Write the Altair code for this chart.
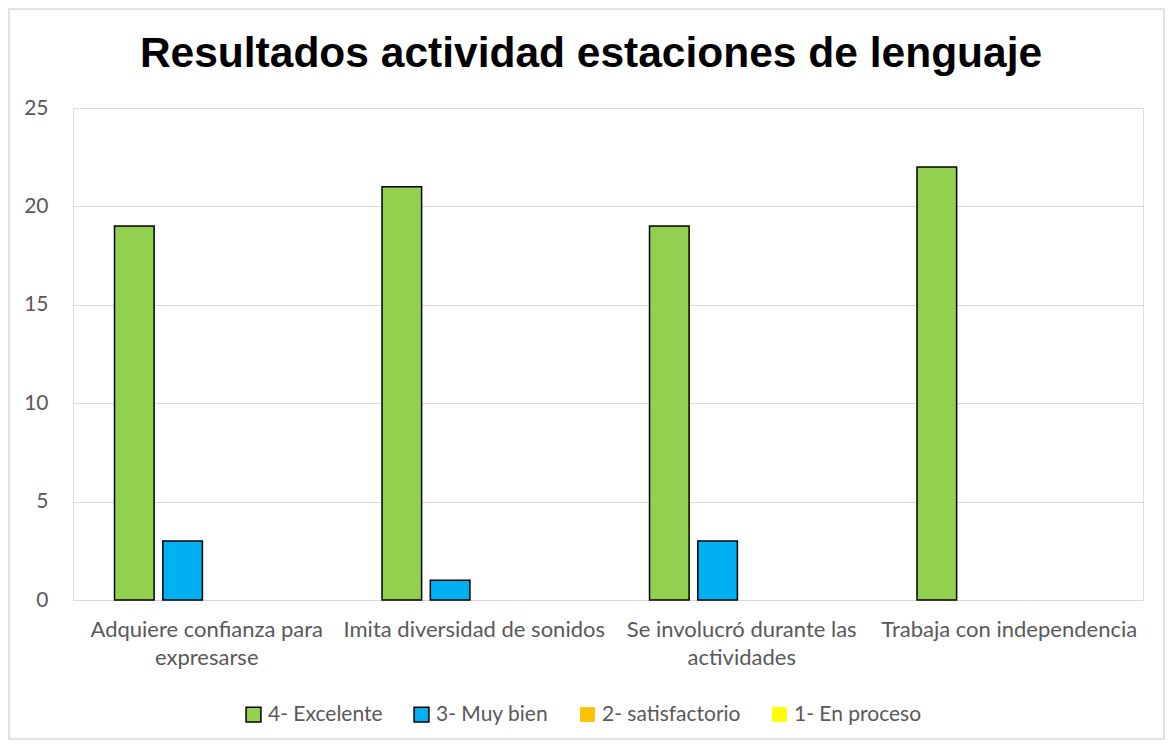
import altair as alt
import pandas as pd

categories = [
    "Adquiere confianza para expresarse",
    "Imita diversidad de sonidos",
    "Se involucró durante las actividades",
    "Trabaja con independencia",
]
series = ["4- Excelente", "3- Muy bien", "2- satisfactorio", "1- En proceso"]
excelente = [19, 21, 19, 22]
muy_bien = [3, 1, 3, 0]
satisfactorio = [0, 0, 0, 0]
en_proceso = [0, 0, 0, 0]
colors = ["#92D050", "#00B0F0", "#FFC000", "#FFFF00"]
strokes = ["#000000", "#000000", "transparent", "transparent"]
title_text = "Resultados actividad estaciones de lenguaje"

rows = []
for s, vals in zip(series, [excelente, muy_bien, satisfactorio, en_proceso]):
    for c, v in zip(categories, vals):
        if v > 0:
            rows.append({"cat": c, "serie": s, "valor": v})
df = pd.DataFrame(rows)

W, H = 1070, 492
PL, PT = 65, 100
label_expr = (
    "datum.value == 'Adquiere confianza para expresarse' ? ['Adquiere confianza para', 'expresarse'] : "
    "datum.value == 'Se involucró durante las actividades' ? ['Se involucró durante las', 'actividades'] : datum.value"
)

legend_kw = dict(title=None, orient="none", direction="horizontal",
                 legendX=170, legendY=596, symbolType="square", symbolSize=220,
                 symbolStrokeWidth=1.5, labelFont="Lato", labelFontSize=21,
                 labelColor="#595959", columnPadding=28, labelOffset=4)

bars = alt.Chart(df).mark_bar(strokeWidth=1.5).encode(
    x=alt.X("cat:N", sort=categories, scale=alt.Scale(domain=categories, paddingInner=0, paddingOuter=0),
            axis=alt.Axis(title=None, labelAngle=0, domain=False, ticks=False, labelPadding=19,
                          labelFont="Lato", labelFontSize=22, labelColor="#595959", labelLimit=400,
                          labelLineHeight=28, labelExpr=label_expr, grid=False)),
    xOffset=alt.XOffset("serie:N", sort=series,
                        scale=alt.Scale(domain=series, paddingInner=0.18, paddingOuter=0.86)),
    y=alt.Y("valor:Q", scale=alt.Scale(domain=[0, 25]),
            axis=alt.Axis(title=None, values=[0, 5, 10, 15, 20, 25], domain=False, ticks=False,
                          labelPadding=25, labelFont="Lato", labelFontSize=21, labelColor="#595959",
                          gridColor="#D9D9D9", gridWidth=1)),
    fill=alt.Fill("serie:N", sort=series, scale=alt.Scale(domain=series, range=colors),
                  legend=alt.Legend(**legend_kw)),
    stroke=alt.Stroke("serie:N", sort=series, scale=alt.Scale(domain=series, range=strokes),
                      legend=alt.Legend(**legend_kw)),
)

frame = alt.Chart(pd.DataFrame({"a": [0]})).mark_rect(
    fill="transparent", stroke="#D9D9D9", strokeWidth=1.5, clip=False
).encode(x=alt.value(-PL + 1), x2=alt.value(W + 21), y=alt.value(-PT + 1), y2=alt.value(H + 139))

title = alt.Chart(pd.DataFrame({"t": [title_text]})).mark_text(
    font="Liberation Sans", fontSize=42.5, fontWeight="bold", color="#000000",
    align="center", baseline="alphabetic", clip=False
).encode(text="t:N", x=alt.value(518), y=alt.value(-41))

chart = alt.layer(frame, bars, title).properties(
    width=W, height=H,
    autosize=alt.AutoSizeParams(type="none"),
    padding={"left": PL, "top": PT, "right": 22, "bottom": 140},
).configure_view(stroke=None).configure(background="white")

chart.save("out.html", embed_options={"renderer": "svg", "actions": False})
